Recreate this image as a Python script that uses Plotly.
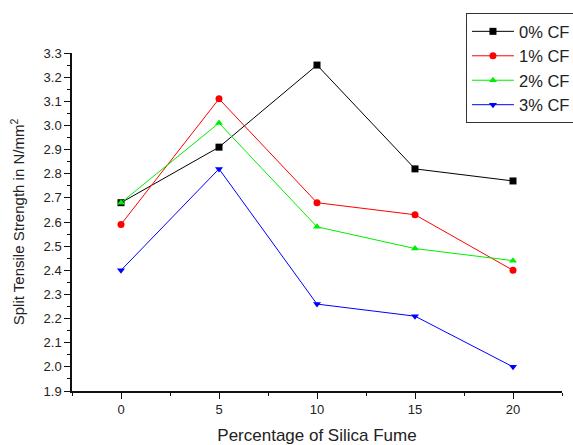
import plotly.graph_objects as go

silica_fume = [0, 5, 10, 15, 20]
cf0 = [2.68, 2.91, 3.25, 2.82, 2.77]
cf1 = [2.59, 3.11, 2.68, 2.63, 2.40]
cf2 = [2.68, 3.01, 2.58, 2.49, 2.44]
cf3 = [2.40, 2.82, 2.26, 2.21, 2.00]
series_names = ["0% CF", "1% CF", "2% CF", "3% CF"]
y_ticks = [1.9, 2.0, 2.1, 2.2, 2.3, 2.4, 2.5, 2.6, 2.7, 2.8, 2.9, 3.0, 3.1, 3.2, 3.3]

series = [cf0, cf1, cf2, cf3]
colors = ["#000000", "#ff0000", "#00ee00", "#0000ff"]
symbols = ["square", "circle", "triangle-up", "triangle-down"]

fig = go.Figure()
for name, vals, c, s in zip(series_names, series, colors, symbols):
    fig.add_trace(go.Scatter(
        x=silica_fume, y=vals, name=name, mode="lines+markers",
        line=dict(color=c, width=1),
        marker=dict(color=c, symbol=s, size=7),
    ))

fig.update_layout(
    width=573, height=445,
    margin=dict(l=72, r=11, t=53, b=54, autoexpand=False),
    paper_bgcolor="white", plot_bgcolor="white",
    font=dict(family="Liberation Sans, Arial, sans-serif", color="#222"),
    legend=dict(
        x=0.804, y=1.118, xanchor="left", yanchor="top",
        bordercolor="#333", borderwidth=1, bgcolor="white",
        font=dict(size=16.5, color="#222"), tracegroupgap=0,
        itemwidth=42,
    ),
    xaxis=dict(
        range=[-2.5, 22.5], tickvals=silica_fume, automargin=False,
        showline=True, linecolor="#111", linewidth=1.5,
        ticks="outside", ticklen=6, tickcolor="#111",
        minor=dict(ticks="outside", ticklen=3, dtick=2.5, tick0=2.5, tickcolor="#111"),
        showgrid=False, zeroline=False,
        tickfont=dict(size=13),
        title=dict(text="Percentage of Silica Fume", font=dict(size=17)),
    ),
    yaxis=dict(
        range=[1.9, 3.3], tickvals=y_ticks, tickformat=".1f", automargin=False,
        showline=True, linecolor="#111", linewidth=1.5,
        ticks="outside", ticklen=6, tickcolor="#111",
        minor=dict(ticks="outside", ticklen=3, dtick=0.05, tick0=1.9, tickcolor="#111"),
        showgrid=False, zeroline=False,
        tickfont=dict(size=13),
        title=dict(text="Split Tensile Strength in N/mm<sup>2</sup>", font=dict(size=15)),
    ),
)

fig.write_html(
    "out.html",
    config={"displayModeBar": False},
    post_script="document.body.style.margin='0';document.body.style.overflow='hidden';",
)
